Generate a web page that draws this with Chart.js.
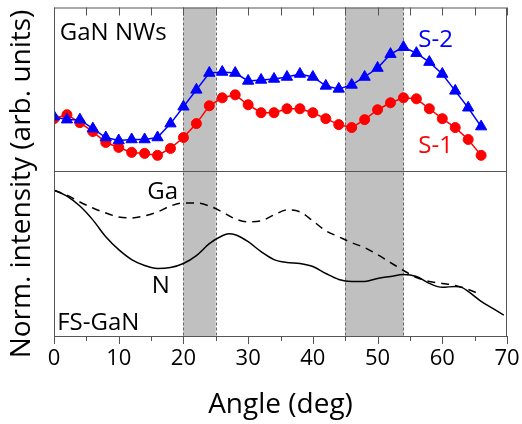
<!DOCTYPE html>
<html>
<head>
<meta charset="utf-8">
<script src="https://cdn.jsdelivr.net/npm/chart.js@4"></script>
<style>
  html, body { margin:0; padding:0; background:#fff; }
  #wrap { width:522px; height:424px; }
</style>
</head>
<body>
<div id="wrap"><canvas id="c"></canvas></div>
<script>
// ---- data ----
const angles = [0,2,4,6,8,10,12,14,16,18,20,22,24,26,28,30,32,34,36,38,40,42,44,46,48,50,52,54,56,58,60,62,64,66];
const s1 = [219,223,215,206,195,190,185,184,182,189,200,214,232,240,243,233,225,225,229,229,225,219,213,210,218,228,235,240,239,229,219,210,198,182];
const s2 = [221,218,218,209,200,197,198,198,200,214,231,248,265,266,265,257,258,259,261,264,261,252,249,253,261,270,284,291,285,276,264,247,230,211];

const nAngles = [0,2,4,6,8,10,12,14,16,18,20,22,24,26,27,28,30,32,34,36,38,40,42,44,46,48,50,52,54,56,58,60,62,63,64,66,68,69.5];
const nVals   = [147,141,131,117,100,87,77,71,68,69,73,81,93,101,103,102,95,85,77,74,73,70,63,57,55,55,58,60,62,60,53,49,50,49,45,35,27,21];

const gaAngles = [0,2,4,6,8,10,12,14,16,18,20,22,24,26,28,30,32,34,36,38,40,42,44,46,48,50,52,54,56,58,60,62,64,65.5];
const gaVals   = [147,142,135,129,124,120,119,121,125,131,134,134,131,125,118,115,116,122,127,125,116,106,100,94,89,82,74,66,59,55,53,51,47,43];

const xTicks = [0,10,20,30,40,50,60,70];
const bands = [[20,25],[45,54]];
const panelSplit = 166;   // border between the two panels

const labels = [
  { text:'GaN NWs', x:0.9,  y:298, color:'#000' },
  { text:'S-2',     x:56.3, y:291, color:'#0000ff' },
  { text:'S-1',     x:56.3, y:184, color:'#ff0000' },
  { text:'Ga',      x:14.4, y:138, color:'#000' },
  { text:'N',       x:15.1, y:43,  color:'#000' },
  { text:'FS-GaN',  x:0.5,  y:6,   color:'#000' }
];

const FONT = "'Open Sans', 'DejaVu Sans', sans-serif";
const AXIS = '#555';

const toXY = (xs, ys) => xs.map((x,i) => ({ x, y: ys[i] }));

// shaded bands + panel divider, under the data
const bandsPlugin = {
  id: 'bands',
  beforeDatasetsDraw(chart) {
    const { ctx, chartArea: a, scales: { x, y } } = chart;
    ctx.save();
    bands.forEach(([b0, b1]) => {
      const x0 = x.getPixelForValue(b0), x1 = x.getPixelForValue(b1);
      ctx.fillStyle = '#c0c0c0';
      ctx.fillRect(x0, a.top, x1 - x0, a.bottom - a.top);
      ctx.strokeStyle = '#666';
      ctx.lineWidth = 1;
      ctx.setLineDash([3, 2]);
      [x0, x1].forEach(px => {
        ctx.beginPath();
        ctx.moveTo(Math.round(px) + 0.5, a.top);
        ctx.lineTo(Math.round(px) + 0.5, a.bottom);
        ctx.stroke();
      });
    });
    ctx.setLineDash([]);
    const py = Math.round(y.getPixelForValue(panelSplit)) + 0.5;
    ctx.strokeStyle = AXIS;
    ctx.beginPath(); ctx.moveTo(a.left, py); ctx.lineTo(a.right, py); ctx.stroke();
    ctx.restore();
  }
};

// frame, ticks and text
const decoPlugin = {
  id: 'deco',
  afterDraw(chart) {
    const { ctx, chartArea: a, scales: { x, y } } = chart;
    ctx.save();
    ctx.strokeStyle = AXIS;
    ctx.lineWidth = 1;
    ctx.strokeRect(a.left + 0.5, a.top + 0.5, a.right - a.left - 1, a.bottom - a.top);
    for (let v = 0; v <= 70; v += 5) {
      const px = Math.round(x.getPixelForValue(v)) + 0.5;
      const major = v % 10 === 0;
      ctx.beginPath();
      ctx.moveTo(px, a.bottom); ctx.lineTo(px, a.bottom + (major ? 8 : 5));
      ctx.moveTo(px, a.top); ctx.lineTo(px, a.top + 8);
      ctx.stroke();
    }
    ctx.textBaseline = 'alphabetic';
    ctx.textAlign = 'left';
    ctx.font = '24px ' + FONT;
    labels.forEach(l => {
      ctx.fillStyle = l.color;
      ctx.fillText(l.text, x.getPixelForValue(l.x), y.getPixelForValue(l.y));
    });
    // y axis title
    ctx.translate(30, 184);
    ctx.rotate(-Math.PI / 2);
    ctx.textAlign = 'center';
    ctx.fillStyle = '#000';
    ctx.font = '28px ' + FONT;
    ctx.fillText('Norm. intensity (arb. units)', 0, 0);
    ctx.restore();
  }
};

new Chart(document.getElementById('c'), {
  type: 'line',
  data: {
    datasets: [
      { label:'S-2', data: toXY(angles, s2), borderColor:'#0000ff', backgroundColor:'#0000ff',
        borderWidth:1.5, pointStyle:'triangle', pointRadius:6.5, pointBorderWidth:1, tension:0, order:0 },
      { label:'S-1', data: toXY(angles, s1), borderColor:'#ff0000', backgroundColor:'#ff0000',
        borderWidth:1.5, pointStyle:'circle', pointRadius:5, pointBorderWidth:1, tension:0, order:1 },
      { label:'Ga', data: toXY(gaAngles, gaVals), borderColor:'#000', borderWidth:1.5,
        borderDash:[8,6], pointRadius:0, cubicInterpolationMode:'monotone', order:2 },
      { label:'N', data: toXY(nAngles, nVals), borderColor:'#000', borderWidth:1.5,
        pointRadius:0, cubicInterpolationMode:'monotone', order:3 }
    ]
  },
  options: {
    responsive:true, maintainAspectRatio:false, animation:false,
    layout: { padding: { top:5, right:15, left:0, bottom:0 } },
    plugins: { legend:{ display:false }, tooltip:{ enabled:false } },
    scales: {
      x: {
        type:'linear', min:0, max:70,
        afterBuildTicks: s => { s.ticks = xTicks.map(v => ({ value:v })); },
        afterFit: s => { s.height = 88; s.paddingLeft = 0; s.paddingRight = 0; },
        grid: { display:false },
        border: { display:false },
        ticks: { color:'#000', font:{ family:FONT, size:22 }, padding:2, maxRotation:0 },
        title: { display:true, text:'Angle (deg)', color:'#000', font:{ family:FONT, size:28 }, padding:{ top:0, bottom:2 } }
      },
      y: {
        min:0, max:331,
        afterFit: s => { s.width = 54; },
        grid: { display:false },
        border: { display:false },
        ticks: { display:false }
      }
    }
  },
  plugins: [bandsPlugin, decoPlugin]
});
</script>
</body>
</html>
